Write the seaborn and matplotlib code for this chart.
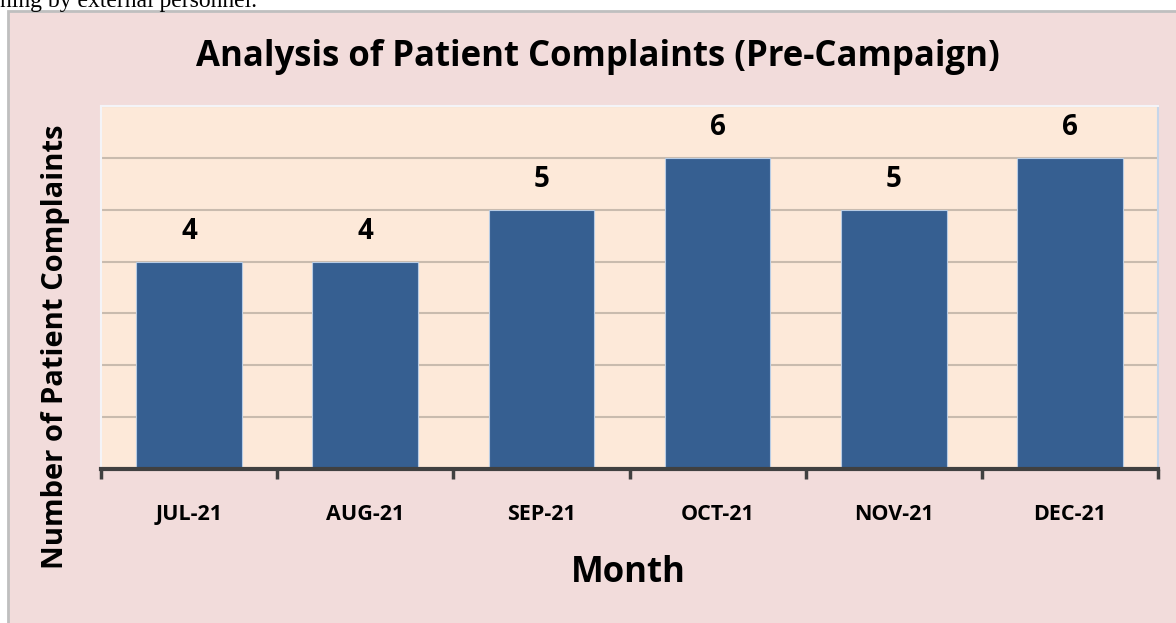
import matplotlib
matplotlib.use("Agg")
import matplotlib.pyplot as plt
import seaborn as sns
import pandas as pd
from matplotlib.patches import Rectangle

months = ["JUL-21", "AUG-21", "SEP-21", "OCT-21", "NOV-21", "DEC-21"]
complaints = [4, 4, 5, 6, 5, 6]

title = "Analysis of Patient Complaints (Pre-Campaign)"
xlabel = "Month"
ylabel = "Number of Patient Complaints"
top_text = "ning by external personnel."

sns.set_theme(style="white")
plt.rcParams["font.family"] = ["Open Sans", "DejaVu Sans"]
plt.rcParams["text.color"] = "black"
plt.rcParams["xtick.color"] = "black"

df = pd.DataFrame({"month": months, "n": complaints})

W, H = 1176, 623
fig = plt.figure(figsize=(11.76, 6.23), dpi=100)
fig.patch.set_facecolor("white")

# chart box background
bg = fig.add_axes([0, 0, 1, 1], zorder=0)
bg.set_xlim(0, W)
bg.set_ylim(H, 0)
bg.axis("off")
bg.add_patch(Rectangle((8, 11), W + 20, H, facecolor="#F2DCDB",
                       edgecolor="#BFBFBF", linewidth=2))

fig.text(0.0, 1 - 7 / H, top_text, family="Liberation Serif", fontsize=17,
         va="baseline", ha="left", color="black")

ax = fig.add_axes([101 / W, 1 - 469 / H, (1158 - 101) / W, (469 - 106) / H], zorder=2)
ax.set_facecolor("#FDE9D9")

sns.barplot(data=df, x="month", y="n", color="#365F91", width=0.6,
            saturation=1, ax=ax, zorder=3, edgecolor="#B8CCE4", linewidth=0.8)
ax.set_xlim(-0.5, 5.5)
ax.set_ylim(0, 7)

for y in range(1, 8):
    ax.axhline(y, color="#C9BBAE", linewidth=1.5, zorder=1)

for i, v in enumerate(complaints):
    ax.annotate(str(v), (i, v), xytext=(0, 22), textcoords="offset points",
                ha="center", va="center", fontsize=20, fontweight="bold", color="black")

ax.set_yticks([])
ax.set_xticks([i - 0.5 for i in range(7)])
ax.set_xticklabels([])
ax.tick_params(axis="x", which="major", direction="out", length=7, width=2.5,
               color="#404040", bottom=True)
ax.set_xticks(range(6), minor=True)
ax.set_xticklabels(months, minor=True, fontsize=15.5, fontweight="bold")
ax.tick_params(axis="x", which="minor", length=0, pad=25, labelcolor="black")

for s in ["top", "right", "left"]:
    ax.spines[s].set_visible(True)
    ax.spines[s].set_color("#F4F4F8")
    ax.spines[s].set_linewidth(1.5)
ax.spines["right"].set_color("#C6D6EA")
ax.spines["bottom"].set_color("#404040")
ax.spines["bottom"].set_linewidth(3)
ax.spines["bottom"].set_zorder(5)

ax.set_xlabel("")
ax.set_ylabel("")
fig.text(628 / W, 1 - 573 / H, xlabel, ha="center", va="center",
         fontsize=25, fontweight="bold")
fig.text(55 / W, 1 - 347 / H, ylabel, ha="center", va="center", rotation=90,
         fontsize=21, fontweight="bold")
fig.text(598 / W, 1 - 57 / H, title, ha="center", va="center",
         fontsize=25, fontweight="bold")

fig.savefig("out.png", dpi=100, facecolor=fig.get_facecolor())
